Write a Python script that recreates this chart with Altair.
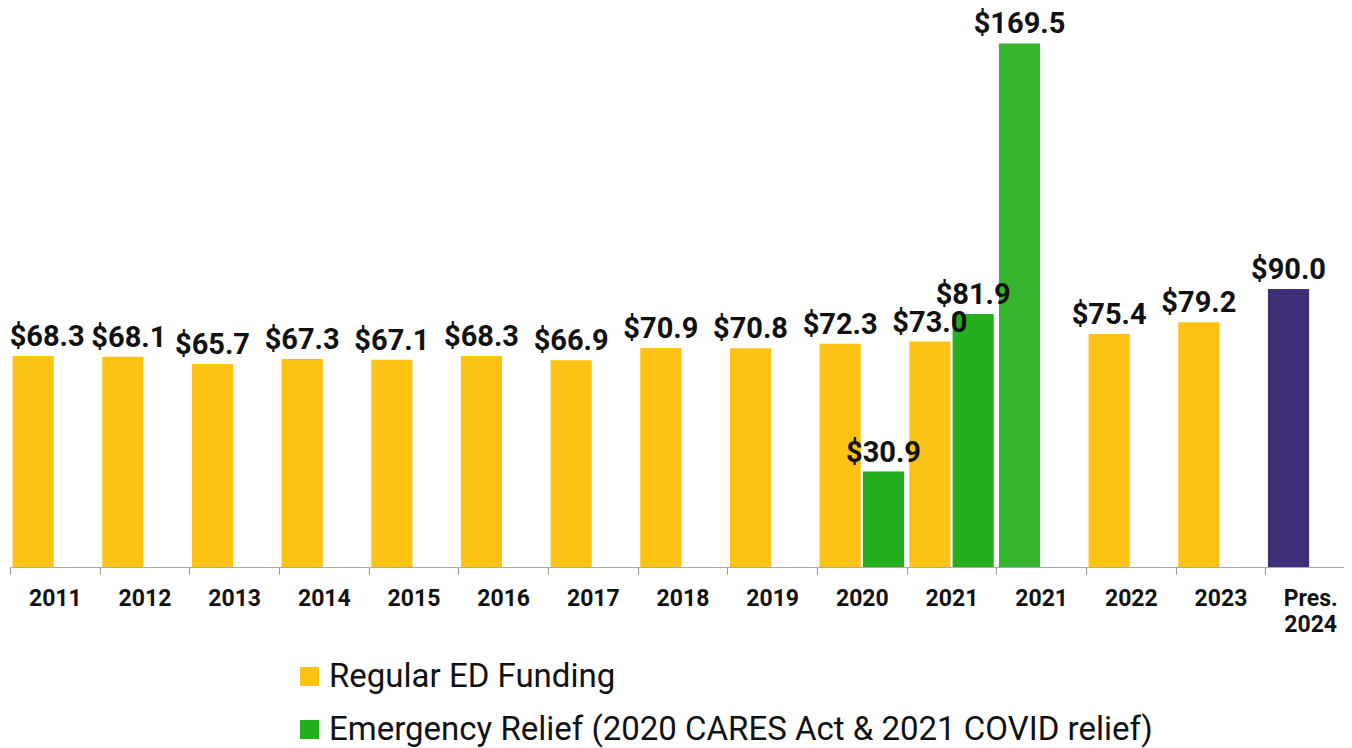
import altair as alt
import pandas as pd

# x categories (two "2021" slots: regular+relief, then total)
categories = ["2011", "2012", "2013", "2014", "2015", "2016", "2017", "2018",
              "2019", "2020", "2021", "2021b", "2022", "2023", "Pres. 2024"]

regular_years = ["2011", "2012", "2013", "2014", "2015", "2016", "2017", "2018",
                 "2019", "2020", "2021", "2022", "2023"]
regular_values = [68.3, 68.1, 65.7, 67.3, 67.1, 68.3, 66.9, 70.9, 70.8, 72.3, 73.0, 75.4, 79.2]

relief_years = ["2020", "2021"]
relief_values = [30.9, 81.9]

total_years = ["2021b"]
total_values = [169.5]

request_years = ["Pres. 2024"]
request_values = [90.0]

series_names = ["Regular ED Funding",
                "Emergency Relief (2020 CARES Act & 2021 COVID relief)",
                "2021 Total",
                "President's 2024 Request"]
series_colors = ["#FDC314", "#25AE1E", "#34B52D", "#3E2D78"]

rows = []
for c, v in zip(regular_years, regular_values):
    rows.append({"category": c, "slot": "a", "series": series_names[0], "value": v})
for c, v in zip(relief_years, relief_values):
    rows.append({"category": c, "slot": "b", "series": series_names[1], "value": v})
for c, v in zip(total_years, total_values):
    rows.append({"category": c, "slot": "a", "series": series_names[2], "value": v})
for c, v in zip(request_years, request_values):
    rows.append({"category": c, "slot": "a", "series": series_names[3], "value": v})
df = pd.DataFrame(rows)

label_expr = ("datum.value == '2021b' ? '2021' : "
              "datum.value == 'Pres. 2024' ? ['Pres.', '2024'] : datum.value")

base = alt.Chart(df).transform_calculate(
    label="'$' + format(datum.value, '.1f')"
).encode(
    x=alt.X("category:N", sort=categories,
            scale=alt.Scale(domain=categories, paddingInner=0, paddingOuter=0),
            axis=alt.Axis(title=None, labelAngle=0, labelFont="Roboto",
                          labelFontWeight="bold", labelFontSize=23, labelColor="#111",
                          labelPadding=13, labelBaseline="top", labelLineHeight=26,
                          tickBand="extent", tickSize=7, tickColor="#999",
                          domainColor="#aaa", grid=False, labelExpr=label_expr)),
    xOffset=alt.XOffset("slot:N", scale=alt.Scale(domain=["a", "b"],
                                                  paddingInner=0.05, paddingOuter=0.06)),
    y=alt.Y("value:Q", scale=alt.Scale(domain=[0, 180]), axis=None),
)

bars = base.mark_bar().encode(
    color=alt.Color("series:N",
                    scale=alt.Scale(domain=series_names, range=series_colors),
                    legend=alt.Legend(title=None, orient="none", legendX=283, legendY=649,
                                      direction="vertical", values=series_names[:2],
                                      symbolType="square", symbolSize=361,
                                      symbolStrokeWidth=0, labelFont="Roboto",
                                      labelFontSize=33, labelColor="#111",
                                      labelLimit=1000, labelOffset=3, rowPadding=19,
                                      padding=0))
)

text_style = dict(font="Roboto", fontWeight="bold", fontSize=29, color="#111",
                  baseline="bottom", align="center", dy=-4)

labels = base.transform_filter(
    "datum.category != '2011' && datum.category != '2012'"
).mark_text(**text_style).encode(text="label:N")
label_2011 = base.transform_filter("datum.category == '2011'").mark_text(
    dx=14, **text_style).encode(text="label:N")
label_2012 = base.transform_filter("datum.category == '2012'").mark_text(
    dx=6, **text_style).encode(text="label:N")

chart = alt.layer(bars, labels, label_2011, label_2012).properties(
    width=1345, height=556,
    autosize=alt.AutoSizeParams(type="none"),
    padding={"left": 2, "top": 3, "right": -11, "bottom": 190},
    background="white",
).configure_view(stroke=None)

chart.save("out.html", embed_options={"renderer": "svg", "actions": False})
